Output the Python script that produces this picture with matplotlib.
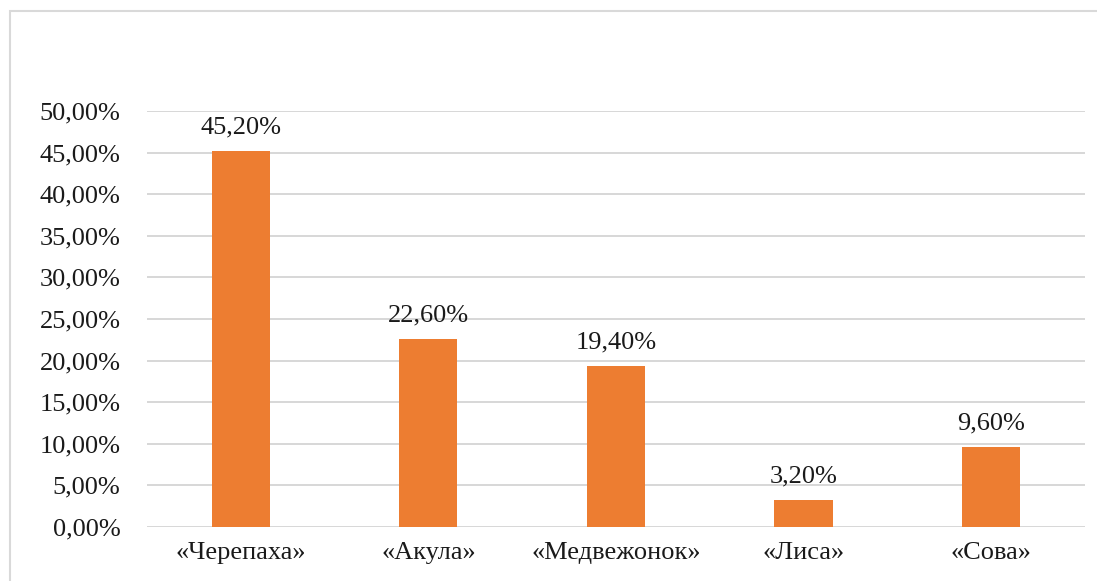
import matplotlib
matplotlib.use("Agg")
from matplotlib import pyplot as plt
from matplotlib.patches import Rectangle
from matplotlib.ticker import FuncFormatter

categories = ['«Черепаха»', '«Акула»', '«Медвежонок»', '«Лиса»', '«Сова»']
values = [45.2, 22.6, 19.4, 3.2, 9.6]
yticks = [0, 5, 10, 15, 20, 25, 30, 35, 40, 45, 50]

plt.rcParams['font.family'] = ['Liberation Serif', 'DejaVu Serif']

def pct(v):
    return f"{v:.2f}%".replace('.', ',')

fig = plt.figure(figsize=(10.97, 5.81), dpi=100)
ax = fig.add_axes([0.134, 0.093, 0.855, 0.716])

# outer chart border (light gray, runs off the right and bottom edges)
fig.patches.append(Rectangle((10 / 1097, -0.1), 1.2, 0.1 + 570 / 581,
                             transform=fig.transFigure, fill=False,
                             edgecolor='#d9d9d9', linewidth=1.5))

x = range(len(categories))
ax.bar(x, values, width=0.31, color='#ED7D31', zorder=3)

for xi, v in zip(x, values):
    ax.text(xi, v + 1.5, pct(v), ha='center', va='bottom',
            fontsize=19, color='#1a1a1a')

ax.set_xlim(-0.5, len(categories) - 0.5)
ax.set_ylim(0, 50)
ax.set_yticks(yticks)
ax.yaxis.set_major_formatter(FuncFormatter(lambda v, p: pct(v)))
ax.set_xticks(list(x))
ax.set_xticklabels(categories)
ax.tick_params(axis='both', length=0, labelsize=19, colors='#1a1a1a')
ax.tick_params(axis='x', pad=11)
ax.tick_params(axis='y', pad=19)
ax.grid(axis='y', color='#d4d4d4', linewidth=1.3, zorder=0)
for s in ax.spines.values():
    s.set_visible(False)

fig.savefig('out.png', dpi=100)
